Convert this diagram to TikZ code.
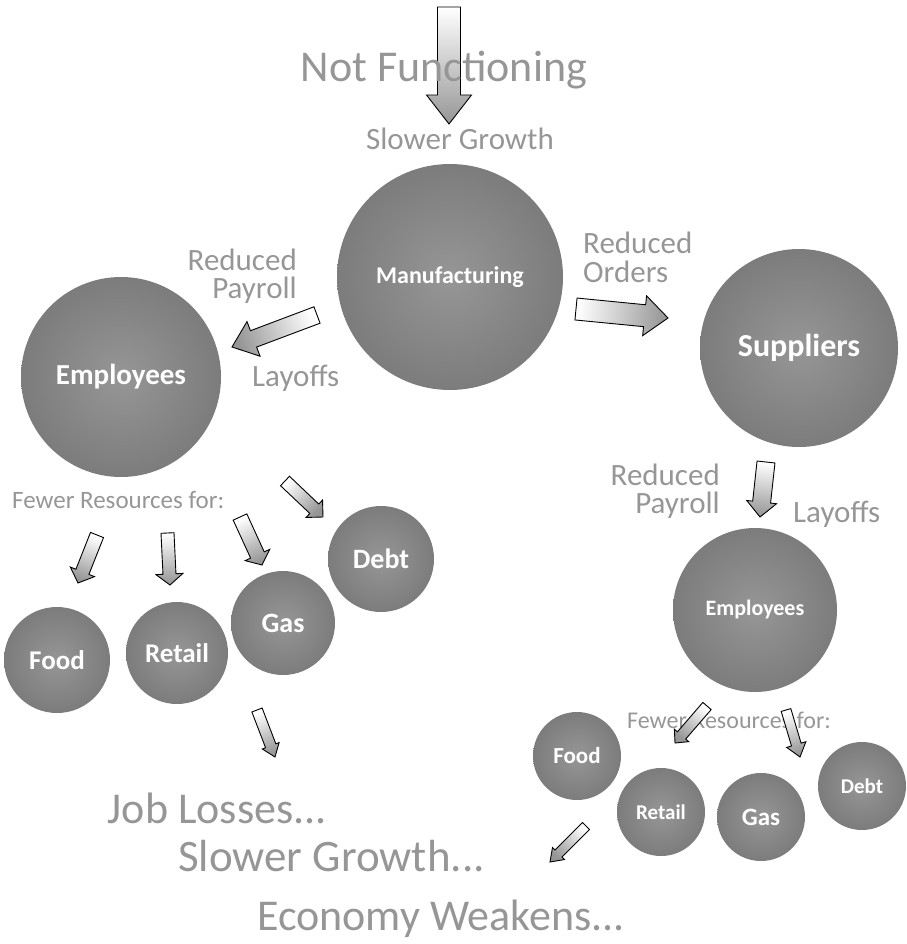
\documentclass[tikz,border=0pt]{standalone}
\usepackage{fontspec}
\setmainfont{Carlito}
\usetikzlibrary{calc}

\definecolor{txtgray}{RGB}{150,150,150}
\definecolor{ballin}{RGB}{150,150,150}
\definecolor{ballout}{RGB}{124,124,124}
\definecolor{arrgray}{RGB}{150,150,150}

\newcommand\fsz[1]{\fontsize{#1}{#1}\selectfont}
\newcommand\lead[2]{\fontsize{#1}{#2}\selectfont}

% block arrow: tail, tip, shaft half width, head half width, head length (pt)
\newcommand\blockarrow[5]{%
  \path let \p1=(#1), \p2=(#2) in
    \pgfextra{%
      \pgfmathsetmacro\tmpang{atan2((\y2)-(\y1),(\x2)-(\x1))}%
      \pgfmathsetmacro\tmplen{veclen((\x2)-(\x1),(\y2)-(\y1))}%
      \global\let\arrang\tmpang
      \global\let\arrlen\tmplen};
  \pgfmathsetmacro\shadeang{\arrang+90}%
  \pgfmathsetmacro\shaftlen{\arrlen-#5}%
  \pgfmathsetmacro\stepw{#4-#3}%
  \draw[blockarr,shading angle=\shadeang]
    ($(#1)+(\arrang+90:#3pt)$) -- ++(\arrang:\shaftlen pt) -- ++(\arrang+90:\stepw pt)
    -- (#2) -- ($(#1)+(\arrang:\shaftlen pt)+(\arrang-90:#4pt)$)
    -- ++(\arrang+90:\stepw pt) -- ++(\arrang+180:\shaftlen pt) -- cycle;
}

\begin{document}
\begin{tikzpicture}[x=1pt,y=-1pt,
  ball/.style={circle,inner sep=0pt,inner color=ballin,outer color=ballout,text=white},
  bsz/.style={font=\bfseries\fsz{#1}},
  lbl/.style={text=txtgray,inner sep=0pt},
  blockarr/.style={draw=black,line width=0.9pt,line join=miter,top color=white,bottom color=arrgray}]
  \useasboundingbox (0,0) rectangle (906,944);

  % circles
  \node[ball,minimum size=226pt,bsz=24] (mfg) at (450,277) {Manufacturing};
  \node[ball,minimum size=200pt,bsz=29] (emp) at (121,377) {Employees};
  \node[ball,minimum size=198pt,bsz=32] (sup) at (799,348) {Suppliers};
  \node[ball,minimum size=164pt,bsz=22] (emp2) at (755,610) {Employees};

  \node[ball,minimum size=106pt,bsz=27] (food) at (57,660) {Food};
  \node[ball,minimum size=102pt,bsz=27] (retail) at (177,653) {Retail};
  \node[ball,minimum size=104pt,bsz=28] (gas) at (283,623) {Gas};
  \node[ball,minimum size=106pt,bsz=28] (debt) at (381,559) {Debt};

  \node[ball,minimum size=88pt,bsz=23] (food2) at (577,756) {Food};
  \node[ball,minimum size=88pt,bsz=21] (retail2) at (661,812) {Retail};
  \node[ball,minimum size=88pt,bsz=25] (gas2) at (761,817) {Gas};
  \node[ball,minimum size=88pt,bsz=21] (debt2) at (862,786) {Debt};

  % arrow ends
  \coordinate (in-s) at (449,7);      \coordinate (in-e) at (449,124);
  \coordinate (pay-s) at (317,315);   \coordinate (pay-e) at (232,347);
  \coordinate (ord-s) at (576,309);   \coordinate (ord-e) at (668,318);
  \coordinate (pay2-s) at (766,462);  \coordinate (pay2-e) at (760,517);
  \coordinate (food-s) at (97,535);   \coordinate (food-e) at (78,583);
  \coordinate (ret-s) at (167.5,533); \coordinate (ret-e) at (170,585);
  \coordinate (gas-s) at (240,517);   \coordinate (gas-e) at (262,565);
  \coordinate (debt-s) at (285,481);  \coordinate (debt-e) at (323,517);
  \coordinate (job-s) at (257,710);   \coordinate (job-e) at (275,757);
  \coordinate (ret2-s) at (707,706);  \coordinate (ret2-e) at (675,743);
  \coordinate (gas2-s) at (786,710);  \coordinate (gas2-e) at (800,757);
  \coordinate (eco-s) at (586,826);   \coordinate (eco-e) at (550,862);

  \blockarrow{in-s}{in-e}{11.5}{22.5}{29}

  % texts
  \node[lbl,font=\fsz{44},anchor=base] (nf) at (444,82) {Not Functioning};
  \node[lbl,font=\fsz{31},anchor=base] (slow) at (460,150) {Slower Growth};
  \node[lbl,font=\lead{31}{28},align=right,anchor=base east] (pay) at (297,298) {Reduced\\Payroll};
  \node[lbl,font=\fsz{31},anchor=base west] (lay) at (252,386) {Layoffs};
  \node[lbl,font=\lead{31}{29},align=left,anchor=base west] (ord) at (583,282) {Reduced\\Orders};
  \node[lbl,font=\lead{31}{28},align=right,anchor=base east] (pay2) at (720,513) {Reduced\\Payroll};
  \node[lbl,font=\fsz{31},anchor=base west] (lay2) at (793,522) {Layoffs};
  \node[lbl,font=\fsz{25},anchor=base west] (few) at (12,508) {Fewer Resources for:};
  \node[lbl,font=\fsz{24},anchor=base west] (few2) at (627,728) {Fewer Resources for:};
  \node[lbl,font=\fsz{44},anchor=base east] (job) at (327,823) {Job Losses...};
  \node[lbl,font=\fsz{45},anchor=base east] (slow2) at (485,871) {Slower Growth...};
  \node[lbl,font=\fsz{44},anchor=base east] (eco) at (625,930) {Economy Weakens...};

  % block arrows
  \blockarrow{pay-s}{pay-e}{8.75}{18.5}{23}
  \blockarrow{ord-s}{ord-e}{11}{20}{23.5}
  \blockarrow{pay2-s}{pay2-e}{9}{15}{15}
  \blockarrow{food-s}{food-e}{7}{13}{12}
  \blockarrow{ret-s}{ret-e}{6.5}{13.5}{11}
  \blockarrow{gas-s}{gas-e}{7.5}{13.5}{11}
  \blockarrow{debt-s}{debt-e}{6.5}{12}{12}
  \blockarrow{job-s}{job-e}{5.5}{9}{12}
  \blockarrow{ret2-s}{ret2-e}{5.5}{9.5}{10}
  \blockarrow{gas2-s}{gas2-e}{5}{10}{13}
  \blockarrow{eco-s}{eco-e}{5}{8.5}{12}
\end{tikzpicture}
\end{document}
